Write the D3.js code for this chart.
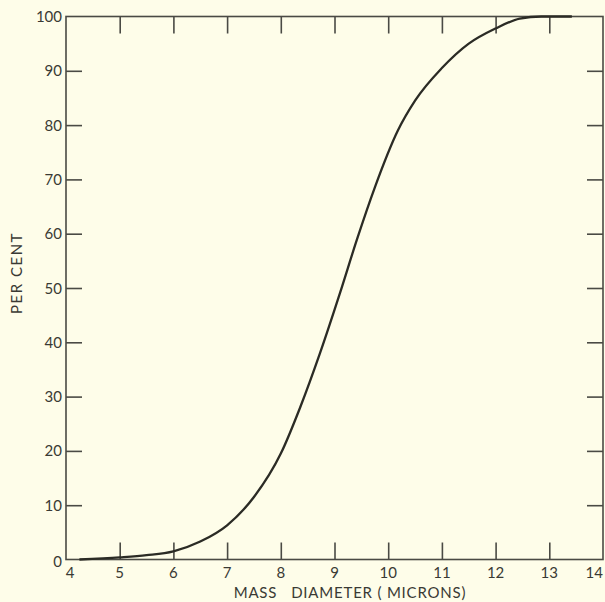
<!DOCTYPE html>
<html>
<head>
<meta charset="utf-8">
<script src="https://cdn.jsdelivr.net/npm/d3@7"></script>
<style>
  body { margin: 0; background: #fefde9; }
  svg { display: block; }
  .lbl { font-family: Lato, "DejaVu Sans", sans-serif; font-size: 15px; fill: #3a3a34; }
</style>
</head>
<body>
<script>
// values
var diameter = [4.25, 5, 5.5, 6, 6.5, 7, 7.5, 8, 8.36, 8.73, 9.1, 9.42, 9.75, 10.18, 10.5, 11, 11.5, 12, 12.45, 12.85, 13.42];
var percent  = [0, 0.4, 0.8, 1.5, 3.3, 6.3, 11.5, 19.5, 28, 38, 49, 59, 68.5, 79, 84.5, 90.5, 95, 97.8, 99.6, 100, 100];
var xTicks = [4, 5, 6, 7, 8, 9, 10, 11, 12, 13, 14];
var yTicks = [0, 10, 20, 30, 40, 50, 60, 70, 80, 90, 100];

var w = 605;
var h = 602;
var padL = 66, padR = 603, padT = 16.5, padB = 559.5;
var ink = "#4a4a44";

var svg = d3.select("body")
            .append("svg")
            .attr("width", w)
            .attr("height", h);

var xScale = d3.scaleLinear().domain([4, 14]).range([padL, padR]);
var yScale = d3.scaleLinear().domain([0, 100]).range([padB, padT]);

//frame
svg.append("rect")
    .attr("x", padL).attr("y", padT)
    .attr("width", padR - padL).attr("height", padB - padT)
    .attr("fill", "none").attr("stroke", ink).attr("stroke-width", 1.6);

//inner ticks on all four sides
var xInner = xTicks.slice(1, -1);
var yInner = yTicks.slice(1, -1);
svg.append("g")
    .attr("transform", "translate(0," + padB + ")")
    .call(d3.axisTop(xScale).tickValues(xInner).tickSize(17).tickFormat(""))
    .call(function(g){ g.select(".domain").remove(); });
svg.append("g")
    .attr("transform", "translate(0," + padT + ")")
    .call(d3.axisBottom(xScale).tickValues(xInner).tickSize(17).tickFormat(""))
    .call(function(g){ g.select(".domain").remove(); });
svg.append("g")
    .attr("transform", "translate(" + padL + ",0)")
    .call(d3.axisRight(yScale).tickValues(yInner).tickSize(16).tickFormat(""))
    .call(function(g){ g.select(".domain").remove(); });
svg.append("g")
    .attr("transform", "translate(" + padR + ",0)")
    .call(d3.axisLeft(yScale).tickValues(yInner).tickSize(16).tickFormat(""))
    .call(function(g){ g.select(".domain").remove(); });
svg.selectAll(".tick line").attr("stroke", ink).attr("stroke-width", 1.6);

//tick labels
svg.selectAll(".xl")
    .data(xTicks)
    .enter().append("text")
    .attr("class", "lbl")
    .attr("x", function(d){ return xScale(d) + (d == 4 ? 4 : 0); })
    .attr("y", 578)
    .attr("text-anchor", function(d){ return d == 14 ? "end" : "middle"; })
    .text(function(d){ return d; });

svg.selectAll(".yl")
    .data(yTicks)
    .enter().append("text")
    .attr("class", "lbl")
    .attr("x", padL - 4)
    .attr("y", function(d){ return yScale(d) + 5.5 + (d == 0 ? 2 : 0); })
    .attr("text-anchor", "end")
    .text(function(d){ return d; });

//axis titles
svg.append("text")
    .attr("class", "lbl")
    .attr("x", 350).attr("y", 598)
    .attr("text-anchor", "middle")
    .style("white-space", "pre")
    .style("letter-spacing", "0.8px")
    .text("MASS   DIAMETER ( MICRONS)");

svg.append("text")
    .attr("class", "lbl")
    .attr("transform", "translate(22,273) rotate(-90)")
    .attr("text-anchor", "middle")
    .style("letter-spacing", "1.5px")
    .text("PER CENT");

//the curve
var line = d3.line()
    .x(function(d){ return xScale(d[0]); })
    .y(function(d){ return yScale(d[1]); })
    .curve(d3.curveMonotoneX);

svg.append("path")
    .datum(diameter.map(function(d, i){ return [d, percent[i]]; }))
    .attr("fill", "none")
    .attr("stroke", "#2b2b25")
    .attr("stroke-width", 2.3)
    .attr("d", line);
</script>
</body>
</html>
